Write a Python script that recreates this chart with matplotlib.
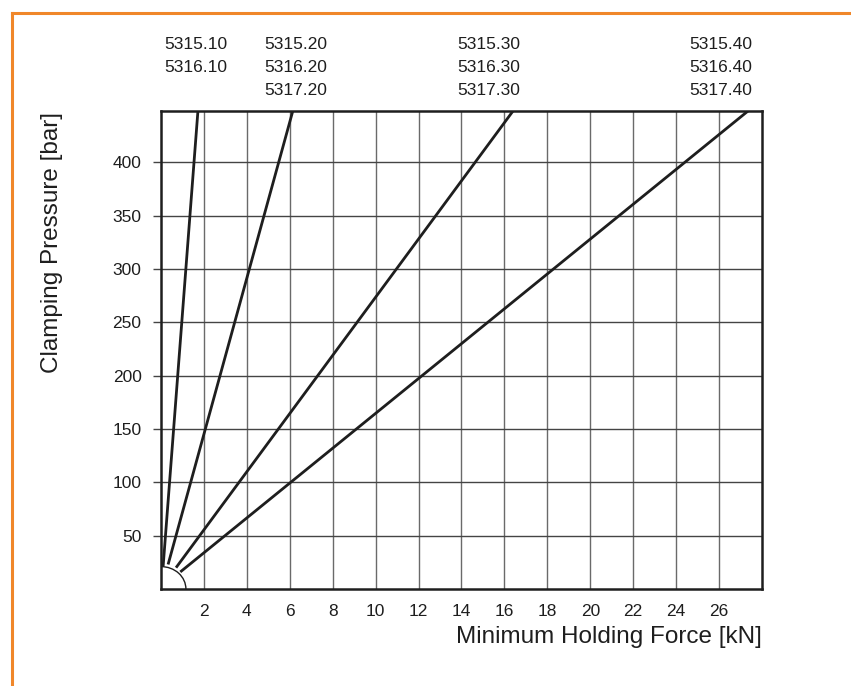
import matplotlib

matplotlib.use("Agg")

import matplotlib.pyplot as plt
from matplotlib.lines import Line2D
from matplotlib.patches import Arc

plt.rcParams["font.family"] = ["Liberation Sans", "DejaVu Sans"]

# lines: start point on the small arc, end point at the top edge
start_force = [0.10, 0.33, 0.70, 0.90]
start_pressure = [21.5, 23.0, 20.0, 16.0]
end_force = [1.72, 6.14, 16.4, 27.35]
end_pressure = [448, 448, 448, 448]

model_labels = [
    ["5315.10", "5316.10"],
    ["5315.20", "5316.20", "5317.20"],
    ["5315.30", "5316.30", "5317.30"],
    ["5315.40", "5316.40", "5317.40"],
]
label_x = [1.63, 6.28, 15.26, 26.1]

x_ticks = list(range(2, 27, 2))
y_ticks = list(range(50, 401, 50))

ORANGE = "#f0872a"
DARK = "#1e1e1e"
GRID_H = "#444444"
GRID_V = "#6a6a6a"

fig = plt.figure(figsize=(8.51, 6.86), dpi=100)
ax = fig.add_axes([0.1892, 0.1414, 0.7062, 0.6968])

ax.set_xlim(0, 28)
ax.set_ylim(0, 448)
ax.set_xticks(x_ticks)
ax.set_yticks(y_ticks)
ax.grid(True, axis="y", color=GRID_H, linewidth=1.0)
ax.grid(True, axis="x", color=GRID_V, linewidth=1.0)
ax.tick_params(axis="x", length=0, pad=11, labelsize=12.5, colors=DARK)
ax.tick_params(axis="y", length=6, width=1, color=GRID_H, pad=8, labelsize=12.5, labelcolor=DARK)
for spine in ax.spines.values():
    spine.set_linewidth(1.8)
    spine.set_color(DARK)

for x0, y0, x1, y1 in zip(start_force, start_pressure, end_force, end_pressure):
    ax.plot([x0, x1], [y0, y1], color=DARK, linewidth=2.0, solid_capstyle="butt", zorder=3)

ax.add_patch(Arc((0, 0), 2 * 1.16, 2 * 21.0, theta1=0, theta2=90,
                 color=DARK, linewidth=1.0, zorder=3))

# product numbers above the plot
for x, rows in zip(label_x, model_labels):
    for i, text in enumerate(rows):
        ax.annotate(text, xy=(x, 1.0), xycoords=("data", "axes fraction"),
                    xytext=(0, 66 - 23 * i), textcoords="offset pixels",
                    ha="center", va="center", fontsize=12.5, color=DARK)

fig.text(0.8954, 0.071, "Minimum Holding Force [kN]", ha="right", va="center",
         fontsize=17.5, color=DARK)
fig.text(0.061, 1 - 112 / 686, "Clamping Pressure [bar]", ha="center", va="top",
         rotation=90, fontsize=17.5, color=DARK)

# orange frame, top and left
fig.add_artist(Line2D([12 / 851, 1.0], [1 - 13 / 686, 1 - 13 / 686],
                      transform=fig.transFigure, color=ORANGE, linewidth=2.2))
fig.add_artist(Line2D([12 / 851, 12 / 851], [1 - 13 / 686, 0.0],
                      transform=fig.transFigure, color=ORANGE, linewidth=2.2))

fig.savefig("out.png", dpi=100)
plt.close(fig)
